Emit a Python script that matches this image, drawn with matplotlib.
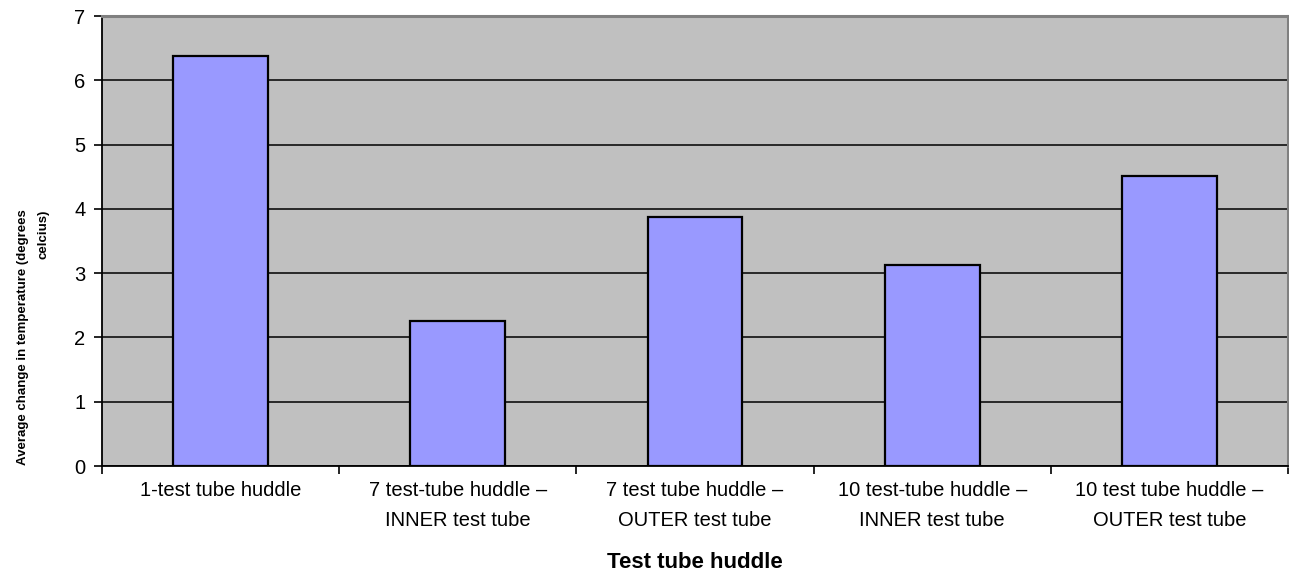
import matplotlib

matplotlib.use("Agg")
import matplotlib.pyplot as plt  # noqa: E402
import numpy as np  # noqa: E402

categories = [
    "1-test tube huddle",
    "7 test-tube huddle \u2013\nINNER test tube",
    "7 test tube huddle \u2013\nOUTER test tube",
    "10 test-tube huddle \u2013\nINNER test tube",
    "10 test tube huddle \u2013\nOUTER test tube",
]
avg_change = [6.38, 2.25, 3.87, 3.13, 4.51]
y_ticks = [0, 1, 2, 3, 4, 5, 6, 7]

plt.rcParams["font.family"] = ["Liberation Sans", "DejaVu Sans"]

W, H = 1289, 576
fig = plt.figure(figsize=(W / 100, H / 100), dpi=100)
ax = fig.add_axes([102 / W, 1 - 466 / H, (1288 - 102) / W, (466 - 16) / H])
ax.set_facecolor("#C0C0C0")

x = np.arange(len(categories))
ax.bar(x, avg_change, width=0.4, color="#9999FF", edgecolor="black", linewidth=1.6, zorder=3)

ax.set_xlim(-0.5, len(categories) - 0.5)
ax.set_ylim(0, 7)
ax.set_yticks(y_ticks)
ax.yaxis.grid(True, color="black", linewidth=1.1, zorder=1)
ax.set_axisbelow(True)

ax.set_xticks(x)
ax.set_xticklabels(categories, fontsize=14.5, linespacing=1.7)
ax.set_xticks(np.arange(len(categories) + 1) - 0.5, minor=True)
ax.tick_params(axis="x", which="major", length=0, pad=11)
ax.tick_params(axis="x", which="minor", length=6, width=1.2, color="black")
ax.tick_params(axis="y", length=6, width=1.2, labelsize=14.5, pad=6)

ax.spines["left"].set_color("black")
ax.spines["bottom"].set_color("black")
ax.spines["left"].set_linewidth(1.3)
ax.spines["bottom"].set_linewidth(1.3)
for side in ("top", "right"):
    ax.spines[side].set_color("#808080")
    ax.spines[side].set_linewidth(2.2)

ax.set_xlabel("Test tube huddle", fontsize=16, fontweight="bold", labelpad=16)

fig.text(
    33 / W,
    1 - 465 / H,
    "Average change in temperature (degrees\ncelcius)",
    rotation=90,
    ha="center",
    va="bottom",
    multialignment="right",
    fontsize=9.5,
    fontweight="bold",
    family=["Liberation Sans Narrow", "Liberation Sans", "DejaVu Sans"],
    linespacing=1.9,
)

fig.savefig("out.png", dpi=100)
